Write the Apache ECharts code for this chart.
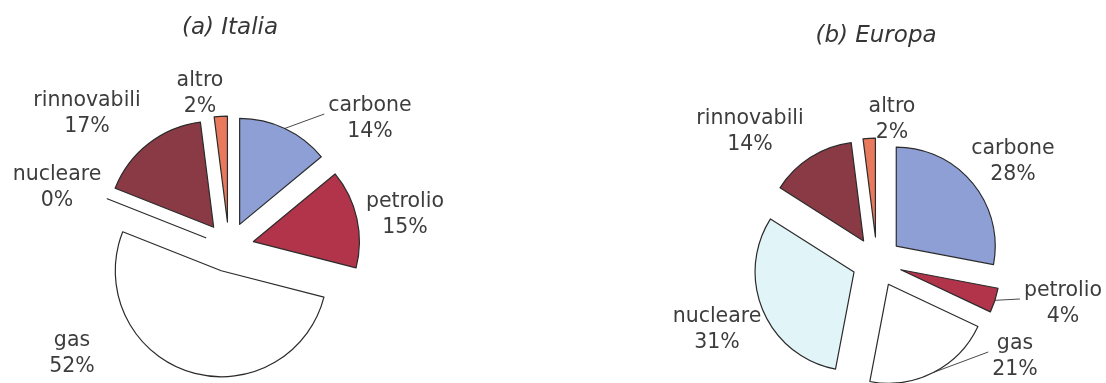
<!DOCTYPE html>
<html>
<head>
<meta charset="utf-8">
<script src="https://cdn.jsdelivr.net/npm/echarts@6/dist/echarts.min.js"></script>
<style>
  html, body { margin: 0; padding: 0; background: #ffffff; }
  #chart { width: 1106px; height: 383px; }
</style>
</head>
<body>
<div id="chart"></div>
<script>
// Energy sources, in the order the slices run clockwise from 12 o'clock
const sources = ['carbone', 'petrolio', 'gas', 'nucleare', 'rinnovabili', 'altro'];
// Share of each source (%)
const italia = [14, 15, 52, 0, 17, 2];
const europa = [28, 4, 21, 31, 14, 2];
const titles = ['(a) Italia', '(b) Europa'];

// Slice fills per source
const fills = {
  carbone: '#8e9fd5',
  petrolio: '#b2344b',
  gas: '#ffffff',
  nucleare: '#e1f4f8',
  rinnovabili: '#8a3a44',
  altro: '#e9795c'
};

// How far every slice is pulled out of its pie (px)
const EXPLODE = 25;

// Pie geometry and label placement (label offsets from the pie centre, px)
const pies = [
  {
    values: italia, title: titles[0], center: [229, 247], radius: 106, titlePos: [230, 28],
    labelOffsets: [[141, -128], [176, -32], [-157, 107], [-172, -59], [-142, -133], [-29, -153]],
    leader: [true, false, false, false, false, false]
  },
  {
    values: europa, title: titles[1], center: [877, 262], radius: 99, titlePos: [876, 36],
    labelOffsets: [[136, -100], [186, 42], [138, 95], [-160, 68], [-127, -130], [15, -142]],
    leader: [false, true, true, false, false, false]
  }
];

const FONT = '"DejaVu Sans", Verdana, sans-serif';
const TEXT_COLOR = '#3d3d3d';
const EDGE = '#2b2b2b';

// Exploded slices: every item selected, so each one is pushed out along its mid-angle
function sliceSeries(pie) {
  return {
    type: 'pie',
    center: pie.center,
    radius: pie.radius,
    startAngle: 90,
    clockwise: true,
    selectedMode: 'multiple',
    selectedOffset: EXPLODE,
    avoidLabelOverlap: false,
    silent: true,
    animation: false,
    itemStyle: { borderColor: EDGE, borderWidth: 1.2 },
    select: { itemStyle: { borderColor: EDGE, borderWidth: 1.2 } },
    emphasis: { disabled: true },
    label: { show: false },
    labelLine: { show: false },
    data: sources.map((name, i) => ({
      name: name,
      value: pie.values[i],
      selected: true,
      itemStyle: { color: fills[name] }
    }))
  };
}

// Category / percentage labels, carried by a transparent pie whose rim sits on the exploded arcs
function labelSeries(pie) {
  return {
    type: 'pie',
    center: pie.center,
    radius: pie.radius + EXPLODE,
    startAngle: 90,
    clockwise: true,
    avoidLabelOverlap: false,
    silent: true,
    animation: false,
    itemStyle: { color: 'rgba(0,0,0,0)', borderWidth: 0 },
    emphasis: { disabled: true },
    label: {
      show: true,
      position: 'outside',
      formatter: p => p.name + '\n' + p.value + '%',
      fontFamily: FONT,
      fontSize: 20.5,
      lineHeight: 26,
      color: TEXT_COLOR,
      align: 'center'
    },
    labelLine: {
      lineStyle: { color: '#4a4a4a', width: 1 },
      length: 10,
      length2: 10
    },
    labelLayout: params => {
      const i = params.dataIndex;
      const off = pie.labelOffsets[i];
      const x = pie.center[0] + off[0];
      const y = pie.center[1] + off[1];
      const out = { x: x, y: y, align: 'center', verticalAlign: 'middle' };
      if (pie.leader[i] && params.labelLinePoints) {
        const start = params.labelLinePoints[0];
        const end = [x - params.labelRect.width / 2 - 4, y - 5];
        out.labelLinePoints = [start, end, end];
      }
      return out;
    },
    data: sources.map((name, i) => ({
      name: name,
      value: pie.values[i],
      labelLine: { show: pie.leader[i] }
    }))
  };
}

const chart = echarts.init(document.getElementById('chart'), null, { renderer: 'canvas' });
chart.setOption({
  backgroundColor: '#ffffff',
  animation: false,
  graphic: pies.map(pie => ({
    type: 'text',
    x: pie.titlePos[0],
    y: pie.titlePos[1],
    silent: true,
    style: {
      text: pie.title,
      font: 'italic 23px ' + FONT,
      fill: '#363636',
      align: 'center',
      verticalAlign: 'middle'
    }
  })),
  series: pies.map(sliceSeries).concat(pies.map(labelSeries))
});
</script>
</body>
</html>
